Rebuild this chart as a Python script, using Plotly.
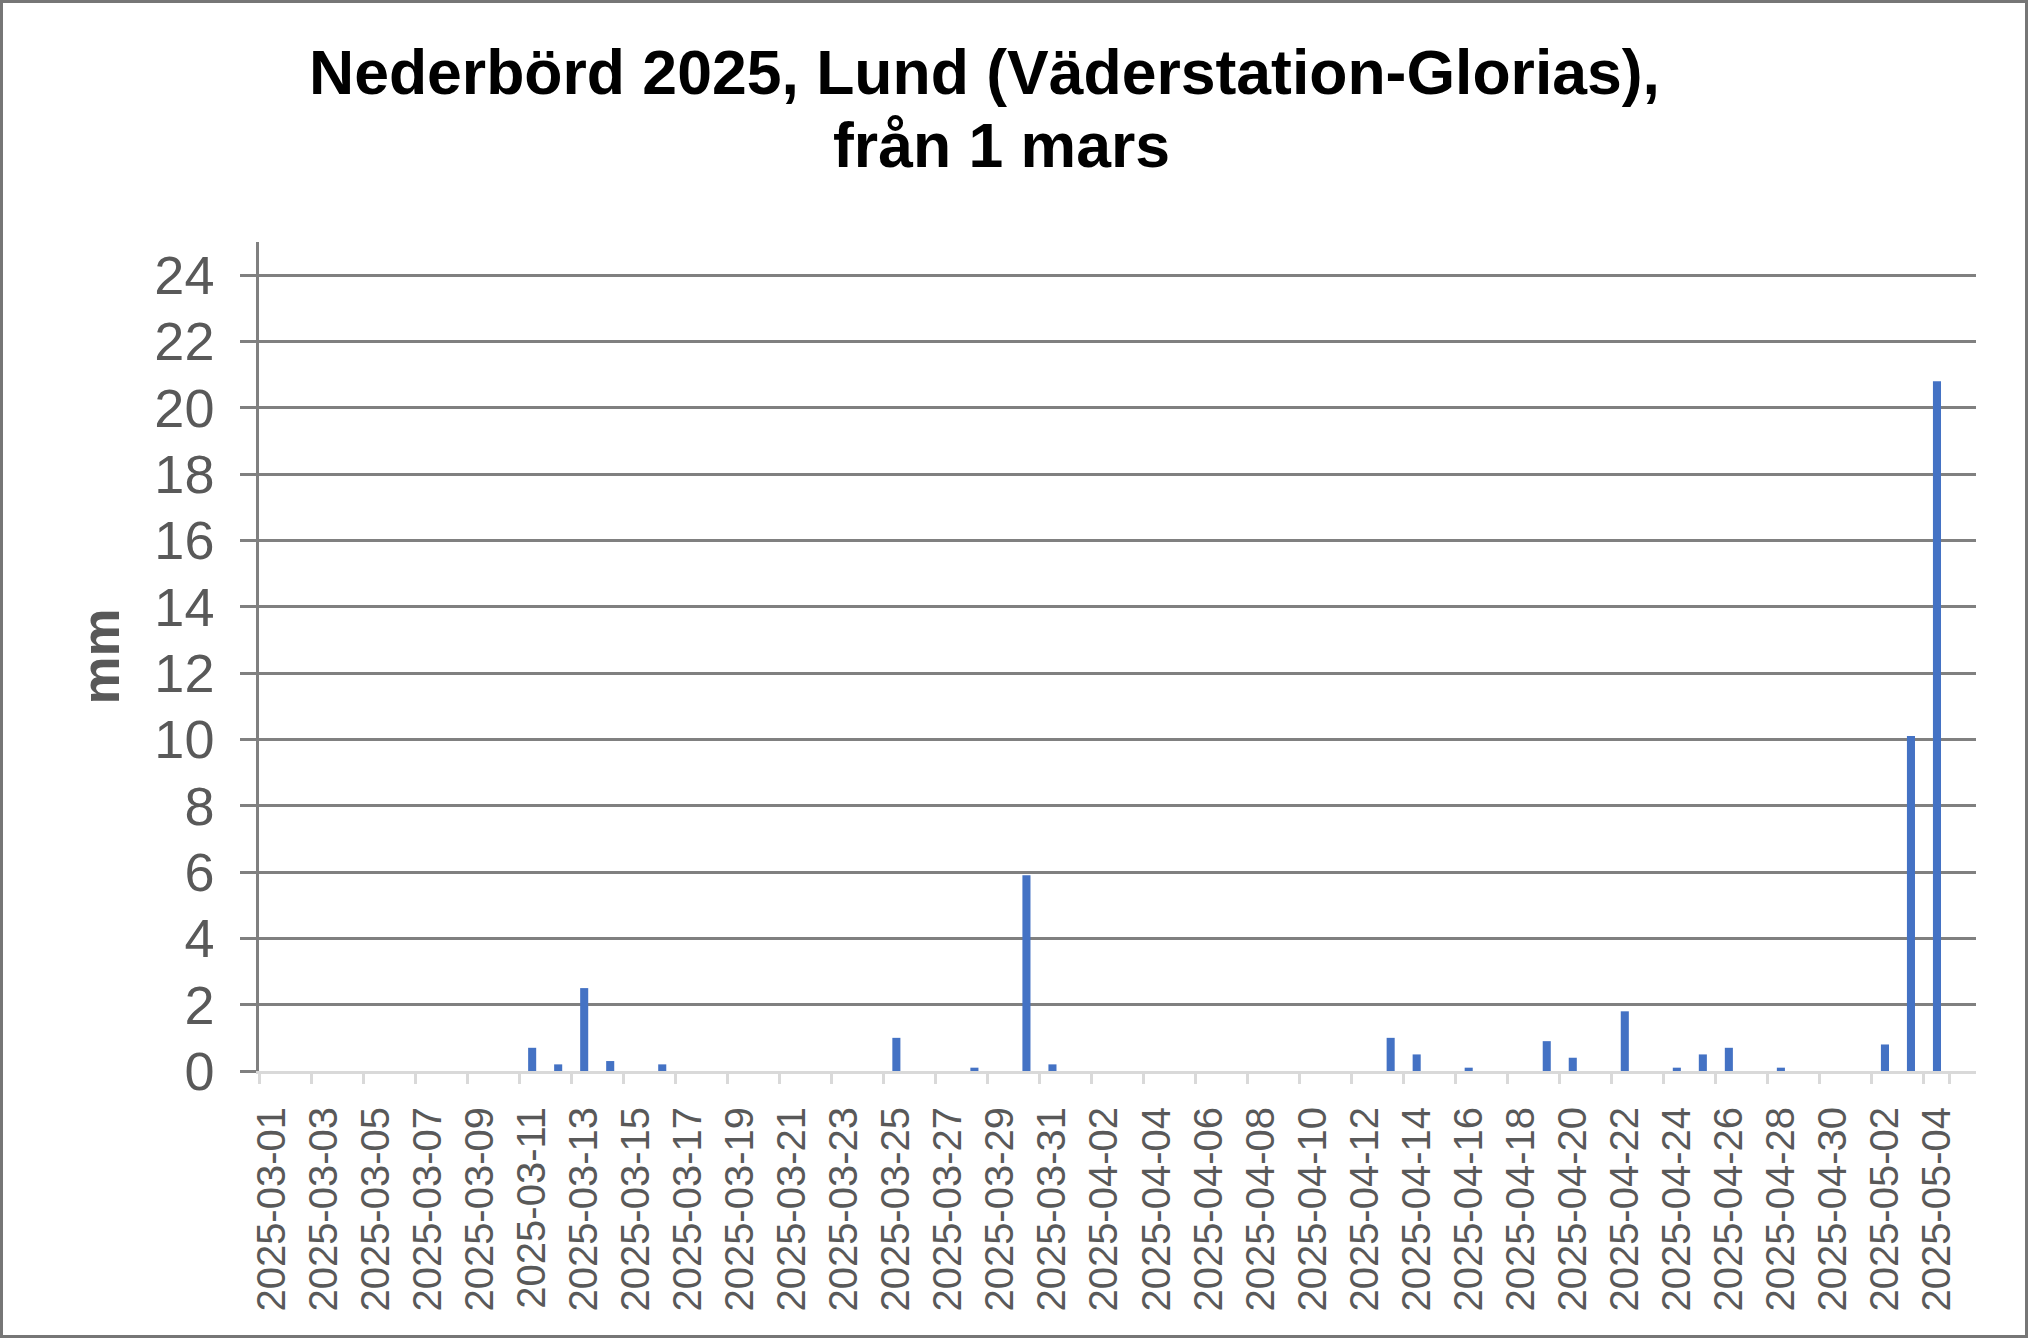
import plotly.graph_objects as go

# Nederbörd per dag, Lund (Väderstation-Glorias), 1 mars - 5 maj 2025
dates = [
    "2025-03-01", "2025-03-02", "2025-03-03", "2025-03-04", "2025-03-05",
    "2025-03-06", "2025-03-07", "2025-03-08", "2025-03-09", "2025-03-10",
    "2025-03-11", "2025-03-12", "2025-03-13", "2025-03-14", "2025-03-15",
    "2025-03-16", "2025-03-17", "2025-03-18", "2025-03-19", "2025-03-20",
    "2025-03-21", "2025-03-22", "2025-03-23", "2025-03-24", "2025-03-25",
    "2025-03-26", "2025-03-27", "2025-03-28", "2025-03-29", "2025-03-30",
    "2025-03-31", "2025-04-01", "2025-04-02", "2025-04-03", "2025-04-04",
    "2025-04-05", "2025-04-06", "2025-04-07", "2025-04-08", "2025-04-09",
    "2025-04-10", "2025-04-11", "2025-04-12", "2025-04-13", "2025-04-14",
    "2025-04-15", "2025-04-16", "2025-04-17", "2025-04-18", "2025-04-19",
    "2025-04-20", "2025-04-21", "2025-04-22", "2025-04-23", "2025-04-24",
    "2025-04-25", "2025-04-26", "2025-04-27", "2025-04-28", "2025-04-29",
    "2025-04-30", "2025-05-01", "2025-05-02", "2025-05-03", "2025-05-04",
    "2025-05-05",
]

rain_mm = [
    0, 0, 0, 0, 0, 0, 0, 0, 0, 0,
    0.7, 0.2, 2.5, 0.3, 0, 0.2, 0, 0, 0, 0,
    0, 0, 0, 0, 1.0, 0, 0, 0.1, 0, 5.9,
    0.2, 0, 0, 0, 0, 0, 0, 0, 0, 0,
    0, 0, 0, 1.0, 0.5, 0, 0.1, 0, 0, 0.9,
    0.4, 0, 1.8, 0, 0.1, 0.5, 0.7, 0, 0.1, 0,
    0, 0, 0.8, 10.1, 20.8, None,
]

tick_dates = dates[::2]
y_ticks = [0, 2, 4, 6, 8, 10, 12, 14, 16, 18, 20, 22, 24]

title_line1 = "Nederbörd 2025, Lund (Väderstation-Glorias),"
title_line2 = "från 1 mars"

BAR_COLOR = "#4472C4"
TEXT_GRAY = "#595959"
GRID_GRAY = "#808080"
LIGHT_GRAY = "#D9D9D9"
FONT = "Liberation Sans, Arial, sans-serif"

W, H = 2028, 1338
L, R, T, B = 259, 52, 242, 267
plot_w = W - L - R
plot_h = H - T - B


def px_x(x):
    return (x - L) / plot_w


def px_y(y):
    return (H - B - y) / plot_h


fig = go.Figure()
fig.add_trace(go.Bar(
    x=dates,
    y=rain_mm,
    marker=dict(color=BAR_COLOR, line=dict(width=0)),
    hoverinfo="x+y",
))

fig.update_layout(
    width=W,
    height=H,
    margin=dict(l=L, r=R, t=T, b=B, pad=0),
    paper_bgcolor="white",
    plot_bgcolor="white",
    font=dict(family=FONT, color=TEXT_GRAY),
    bargap=0.69,
    showlegend=False,
    xaxis=dict(
        type="category",
        categoryorder="array",
        categoryarray=dates,
        range=[-0.5, len(dates) - 0.5],
        tickmode="array",
        tickvals=tick_dates,
        ticktext=tick_dates,
        tickangle=-90,
        tickfont=dict(size=40, color=TEXT_GRAY, family=FONT),
        ticks="outside",
        tickson="boundaries",
        ticklen=10,
        tickwidth=3,
        tickcolor=LIGHT_GRAY,
        ticklabelstandoff=17,
        showline=True,
        linecolor=LIGHT_GRAY,
        linewidth=3,
        showgrid=False,
        zeroline=False,
    ),
    yaxis=dict(
        range=[0, 25],
        tickmode="array",
        tickvals=y_ticks,
        tickfont=dict(size=54, color=TEXT_GRAY, family=FONT),
        ticks="outside",
        ticklen=16,
        tickwidth=2.5,
        tickcolor=GRID_GRAY,
        ticklabelstandoff=15,
        showline=True,
        linecolor=GRID_GRAY,
        linewidth=2.5,
        showgrid=True,
        gridcolor=GRID_GRAY,
        gridwidth=2.5,
        zeroline=False,
        title=dict(
            text="<b>mm</b>",
            font=dict(size=54, color=TEXT_GRAY, family=FONT),
            standoff=18,
        ),
    ),
    annotations=[
        dict(
            text="<b>" + title_line1 + "</b>",
            xref="paper", yref="paper",
            x=px_x(984), y=px_y(72),
            xanchor="center", yanchor="middle",
            showarrow=False,
            font=dict(size=62.5, color="black", family=FONT),
        ),
        dict(
            text="<b>" + title_line2 + "</b>",
            xref="paper", yref="paper",
            x=px_x(1001), y=px_y(145),
            xanchor="center", yanchor="middle",
            showarrow=False,
            font=dict(size=62.5, color="black", family=FONT),
        ),
    ],
    shapes=[
        # grey frame around the whole chart area
        dict(
            type="rect",
            xref="paper", yref="paper",
            x0=px_x(1.5), x1=px_x(W - 1.5),
            y0=px_y(H - 1.5), y1=px_y(1.5),
            line=dict(color="#767676", width=3),
            fillcolor="rgba(0,0,0,0)",
            layer="above",
        ),
    ],
)

# drop the default body margin so the figure sits at the page corner
fig.write_html(
    "out.html",
    config={"displayModeBar": False},
    post_script="document.body.style.margin='0';",
)
